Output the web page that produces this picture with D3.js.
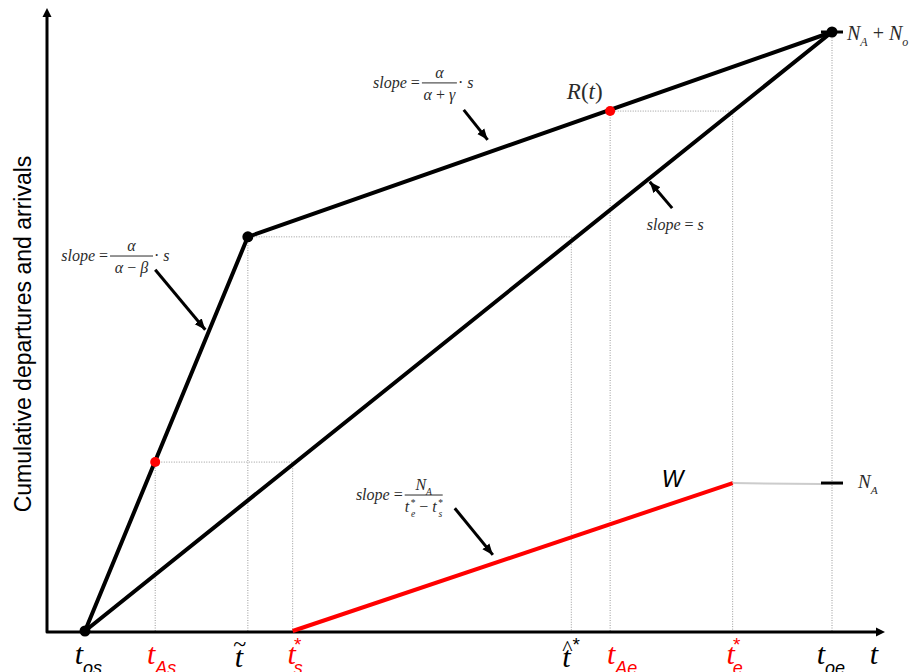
<!DOCTYPE html>
<meta charset="utf-8">
<style>
body { margin: 0; background: #fff; }
.axis { fill: none; stroke: #000; stroke-width: 3px; stroke-linejoin: round; }
.curve { fill: none; stroke: #000; stroke-width: 4px; stroke-linecap: round; stroke-linejoin: round; }
.wline { fill: none; stroke: #f00; stroke-width: 4px; }
.guide { fill: none; stroke: #999; stroke-width: 1px; stroke-dasharray: 1,1.5; }
.math { font-family: "Liberation Serif", "Times New Roman", serif; font-style: italic; fill: #2b2b2b; }
.up { font-style: normal; }
.ylabel { font-family: "Liberation Sans", Arial, sans-serif; font-size: 23px; fill: #000; }
</style>
<svg width="913" height="672"></svg>
<script src="https://cdn.jsdelivr.net/npm/d3@7/dist/d3.min.js"></script>
<script>
// time marks on the t axis (t_os = 0, t_oe = 10)
var tickKeys   = ["os", "As", "tilde", "s", "hat", "Ae", "e", "oe"];
var tickTimes  = [0, 0.94, 2.18, 2.78, 6.51, 7.03, 8.67, 10];

// cumulative arrivals R(t) (kinked curve) and departures (slope s)
var arrivalTimes   = [0, 2.18, 10];
var arrivalCounts  = [0, 65.8, 100];
var departTimes    = [0, 10];
var departCounts   = [0, 100];

// W line, N_A at t_e*
var wTimes  = [2.78, 8.67];
var wCounts = [0, 24.7];

// red marker points on R(t)
var redTimes  = [0.94, 7.03];
var redCounts = [28.2, 86.8];

var svg = d3.select("svg"),
    width = +svg.attr("width"),
    height = +svg.attr("height");

var x = d3.scaleLinear().domain([0, 10]).range([85, 832]),
    y = d3.scaleLinear().domain([0, 100]).range([631, 32]);

var line = d3.line().x(function(d) { return x(d[0]); }).y(function(d) { return y(d[1]); });
var zip = function(a, b) { return a.map(function(v, i) { return [v, b[i]]; }); };

var defs = svg.append("defs");
defs.append("marker").attr("id", "axhead")
    .attr("viewBox", "0 -5 10 10").attr("refX", 0).attr("refY", 0)
    .attr("markerUnits", "userSpaceOnUse").attr("markerWidth", 10).attr("markerHeight", 10)
    .attr("orient", "auto-start-reverse")
  .append("path").attr("d", "M0,-4.5L9,0L0,4.5Z").attr("fill", "#000");
defs.append("marker").attr("id", "arrhead")
    .attr("viewBox", "0 -5 12 10").attr("refX", 11).attr("refY", 0)
    .attr("markerUnits", "userSpaceOnUse").attr("markerWidth", 12).attr("markerHeight", 10)
    .attr("orient", "auto")
  .append("path").attr("d", "M0,-4.5L11,0L0,4.5Z").attr("fill", "#000");

// guide lines (dotted), box from the axis up to a level and across
var guideBoxes = [[1, 3, redCounts[0]], [2, 4, arrivalCounts[1]], [5, 6, redCounts[1]]];
guideBoxes.forEach(function(b) {
  svg.append("path").attr("class", "guide")
      .attr("d", "M" + x(tickTimes[b[0]]) + "," + y(0) + "V" + y(b[2]) +
                 "H" + x(tickTimes[b[1]]) + "V" + y(0));
});
svg.append("path").attr("class", "guide")
    .attr("d", "M" + x(10) + "," + y(0) + "V" + y(100));
// level of N_A carried to the right
svg.append("line")
    .attr("x1", x(wTimes[1])).attr("y1", y(wCounts[1]))
    .attr("x2", x(10) - 11).attr("y2", y(wCounts[1]) + 1)
    .attr("stroke", "#ccc").attr("stroke-width", 2);

// axes
var ox = 47, oy = 632;
svg.append("path").attr("class", "axis")
    .attr("d", "M" + ox + ",17V" + oy + "H876")
    .attr("marker-start", "url(#axhead)").attr("marker-end", "url(#axhead)");

svg.append("text").attr("class", "ylabel")
    .attr("transform", "translate(31,334)rotate(-90)")
    .attr("text-anchor", "middle")
    .text("Cumulative departures and arrivals");

// curves
svg.append("path").attr("class", "curve").attr("d", line(zip(departTimes, departCounts)));
svg.append("path").attr("class", "curve").attr("d", line(zip(arrivalTimes, arrivalCounts)));
svg.append("path").attr("class", "wline").attr("d", line(zip(wTimes, wCounts)));

// small ticks at N_A + N_o and N_A
[100, wCounts[1]].forEach(function(v) {
  svg.append("line").attr("x1", x(10) - 11).attr("x2", x(10) + 11)
      .attr("y1", y(v)).attr("y2", y(v)).attr("stroke", "#000").attr("stroke-width", 3);
});

// dots
svg.selectAll(".knot").data(zip(arrivalTimes, arrivalCounts)).enter().append("circle")
    .attr("cx", function(d) { return x(d[0]); }).attr("cy", function(d) { return y(d[1]); })
    .attr("r", 5.5).attr("fill", "#000");
svg.selectAll(".red").data(zip(redTimes, redCounts)).enter().append("circle")
    .attr("cx", function(d) { return x(d[0]); }).attr("cy", function(d) { return y(d[1]); })
    .attr("r", 5).attr("fill", "#f00");

// rich text: parts are [text, kind, dx] where kind is "sub", "sup", "up" or null
function rich(sel, parts, size) {
  var shift = 0;
  parts.forEach(function(p) {
    var target = p[1] === "sub" ? size * 0.3 : p[1] === "sup" ? -size * 0.4 : 0;
    var ts = sel.append("tspan").attr("dy", target - shift).text(p[0]);
    if (p[1] === "sub" || p[1] === "sup") ts.style("font-size", (size * 0.6) + "px");
    if (p[1] === "up") ts.attr("class", "up");
    if (p[2]) ts.attr("dx", p[2]);
    shift = target;
  });
  return sel;
}

function fraction(pt, barW, num, den, tail) {
  var x0 = x(pt[0]), y0 = y(pt[1]), fs = 16;
  var g = svg.append("g").attr("class", "math").style("font-size", fs + "px");
  rich(g.append("text").attr("x", x0 - 2).attr("y", y0 + 5).attr("text-anchor", "end"),
      [["slope", null], [" = ", "up"]], fs);
  g.append("line").attr("x1", x0).attr("x2", x0 + barW).attr("y1", y0).attr("y2", y0)
      .attr("stroke", "#2b2b2b").attr("stroke-width", 1);
  rich(g.append("text").attr("x", x0 + barW / 2).attr("y", y0 - 5).attr("text-anchor", "middle"), num, fs);
  rich(g.append("text").attr("x", x0 + barW / 2).attr("y", y0 + 17).attr("text-anchor", "middle"), den, fs);
  if (tail) rich(g.append("text").attr("x", x0 + barW + 1).attr("y", y0 + 5), tail, fs);
}

fraction([4.51, 91.5], 35, [["α", null]], [["α", null], [" + ", "up"], ["γ", null]], [["· ", "up"], ["s", null]]);
fraction([0.335, 62.6], 43, [["α", null]], [["α", null], [" − ", "up"], ["β", null]], [["· ", "up"], ["s", null]]);
fraction([4.28, 22.7], 38, [["N", null], ["A", "sub"]],
    [["t", null], ["*", "sup", 1], ["e", "sub", -4], [" − ", "up"], ["t", null], ["*", "sup", 1], ["s", "sub", -4]], null);

rich(svg.append("text").attr("class", "math").style("font-size", "16px")
    .attr("x", x(7.52)).attr("y", y(66.9)), [["slope", null], [" = ", "up"], ["s", null]], 16);

// pointer arrows
var arrows = [[[5.07, 87.0], [5.39, 82.0]], [[0.94, 60.3], [1.61, 50.3]],
              [[4.95, 20.5], [5.46, 12.7]], [[7.86, 70.6], [7.56, 75.0]]];
arrows.forEach(function(a) {
  svg.append("line").attr("x1", x(a[0][0])).attr("y1", y(a[0][1]))
      .attr("x2", x(a[1][0])).attr("y2", y(a[1][1]))
      .attr("stroke", "#000").attr("stroke-width", 3).attr("marker-end", "url(#arrhead)");
});

// curve labels
rich(svg.append("text").attr("class", "math").style("font-size", "23px")
    .attr("x", x(6.45)).attr("y", y(88.8)),
    [["R", null], ["(", "up"], ["t", null], [")", "up"]], 23);
svg.append("text").attr("x", x(7.72)).attr("y", y(24))
    .style("font-family", "Liberation Sans, Arial, sans-serif").style("font-style", "italic")
    .style("font-size", "23px").attr("fill", "#000").text("W");
rich(svg.append("text").attr("class", "math").style("font-size", "19px")
    .attr("x", x(10) + 26).attr("y", y(wCounts[1]) + 5), [["N", null], ["A", "sub"]], 19);
rich(svg.append("text").attr("class", "math").style("font-size", "20px")
    .attr("x", x(10) + 15).attr("y", y(100) + 8),
    [["N", null], ["A", "sub"], [" + ", "up"], ["N", null], ["o", "sub"]], 20);

// t-axis labels
var tickColors = ["#000", "#f00", "#000", "#f00", "#000", "#f00", "#f00", "#000"];
var tickShift  = [-6, -4, -9, -1, -5, 1, -2, -11];
var serif = "Liberation Serif, Times New Roman, serif",
    sans = "Liberation Sans, Arial, sans-serif";
tickKeys.forEach(function(k, i) {
  var cx = x(tickTimes[i]) + tickShift[i], col = tickColors[i];
  var accent = k === "tilde" || k === "hat";
  var g = svg.append("g").attr("fill", col);
  g.append("text").attr("x", cx).attr("y", accent ? 667 : 664).attr("text-anchor", "middle")
      .style("font-family", serif).style("font-style", "italic").style("font-size", "30px").text("t");
  if (k === "tilde") {
    g.append("text").attr("x", cx + 1).attr("y", 652).attr("text-anchor", "middle")
        .style("font-family", serif).style("font-size", "24px").text("~");
    return;
  }
  if (k === "hat") {
    g.append("text").attr("x", cx + 1).attr("y", 655).attr("text-anchor", "middle")
        .style("font-family", serif).style("font-size", "22px").text("^");
    g.append("text").attr("x", cx + 10).attr("y", 651).attr("text-anchor", "middle")
        .style("font-family", sans).style("font-size", "19px").text("*");
    return;
  }
  var single = k.length === 1;
  if (single) {
    g.append("text").attr("x", cx + 6).attr("y", 651).attr("text-anchor", "middle")
        .style("font-family", sans).style("font-size", "19px").text("*");
  }
  g.append("text").attr("x", cx + (single ? 2 : 4)).attr("y", 674)
      .style("font-family", sans).style("font-style", "italic").style("font-size", "18px").text(k);
});
svg.append("text").attr("x", 874).attr("y", 664).attr("text-anchor", "middle")
    .style("font-family", serif).style("font-style", "italic").style("font-size", "30px").text("t");
</script>
